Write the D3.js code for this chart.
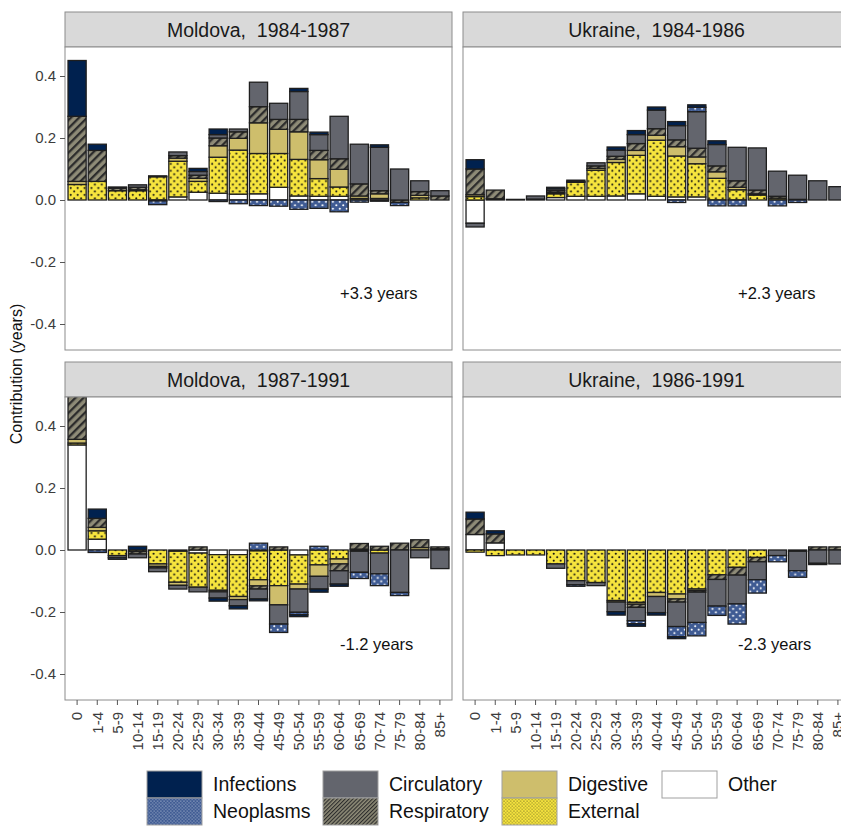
<!DOCTYPE html>
<html>
<head>
<meta charset="utf-8">
<script src="https://cdn.jsdelivr.net/npm/d3@7"></script>
<style>
  html, body { margin: 0; padding: 0; background: #fff; overflow: hidden; }
  svg { display: block; font-family: "Liberation Sans", Arial, sans-serif; }
</style>
</head>
<body>
<svg id="chart" width="841" height="826"></svg>
<script>
// age groups on the x axis
const ages = ["0", "1-4", "5-9", "10-14", "15-19", "20-24", "25-29", "30-34", "35-39",
    "40-44", "45-49", "50-54", "55-59", "60-64", "65-69", "70-74", "75-79", "80-84", "85+"];

// causes, in legend order
const causes = ["Infections", "Neoplasms", "Circulatory", "Respiratory", "Digestive", "External", "Other"];

// y axis ticks
const yTicks = [-0.4, -0.2, 0.0, 0.2, 0.4];

// contributions (years), one row per cause in the order above
const moldova8487 = [
    [0.18, 0.02, 0, 0, 0, 0, 0.01, 0.018, 0, 0, 0, 0.01, 0.008, 0, 0, 0.008, 0, 0, 0],
    [0, 0, 0, 0, -0.012, 0, 0, -0.005, -0.012, -0.018, -0.02, -0.03, -0.027, -0.038, -0.007, -0.004, -0.01, 0, 0],
    [0, 0, 0.004, 0.008, -0.003, 0.012, 0.012, 0.011, 0.009, 0.079, 0.052, 0.09, 0.051, 0.137, 0.128, 0.14, 0.1, 0.035, 0.017],
    [0.21, 0.10, 0.008, 0.008, 0, 0.008, 0.01, 0.025, 0.021, 0.052, 0.032, 0.04, 0.03, 0.034, 0.039, 0.01, -0.008, 0.012, 0.013],
    [0.01, 0, 0, 0.003, 0.003, 0.01, 0.01, 0.037, 0.038, 0.099, 0.078, 0.089, 0.061, 0.057, 0.008, 0.015, 0, 0.008, 0],
    [0.05, 0.06, 0.03, 0.03, 0.075, 0.115, 0.035, 0.116, 0.142, 0.13, 0.109, 0.118, 0.057, 0.03, 0.005, 0, 0, 0.007, 0],
    [0, 0, 0, 0, 0, 0.01, 0.025, 0.022, 0.019, 0.02, 0.041, 0.013, 0.012, 0.012, 0, 0.005, 0, 0, 0]
];

const ukraine8486 = [
    [0.03, 0, 0, 0, 0.005, 0, 0, 0.01, 0.013, 0.01, 0.013, 0.008, 0.012, 0, 0, 0, 0, 0, 0],
    [0, 0, 0, 0, 0, 0, 0, 0, 0, 0, -0.008, 0.014, -0.019, -0.019, 0, -0.019, -0.008, 0, 0],
    [-0.012, 0, 0.002, 0.01, 0.006, 0, 0.01, 0.02, 0.029, 0.06, 0.046, 0.118, 0.069, 0.108, 0.136, 0.081, 0.078, 0.062, 0.043],
    [0.083, 0.028, 0, 0, 0.006, 0.004, 0.008, 0.01, 0.022, 0.021, 0.022, 0.028, 0.019, 0.021, 0.012, 0.006, 0, 0, 0],
    [0.006, 0, 0, 0, 0.004, 0.003, 0.006, 0.01, 0.016, 0.016, 0.03, 0.022, 0.021, 0.008, 0.004, 0, 0, 0, 0],
    [0.011, 0.004, 0, 0.003, 0.012, 0.045, 0.084, 0.108, 0.124, 0.181, 0.132, 0.107, 0.07, 0.033, 0.016, 0.006, 0.002, 0, 0],
    [-0.075, 0, 0, 0, 0.008, 0.012, 0.012, 0.013, 0.02, 0.012, 0.01, 0.01, 0, 0, 0, 0, 0, 0, 0]
];

const moldova8791 = [
    [0, 0.03, 0, 0.012, 0, 0, 0, -0.01, -0.01, -0.006, 0, -0.006, -0.01, -0.007, 0, 0, 0, 0, 0],
    [0, -0.008, -0.005, 0, 0, 0, 0, 0, 0, 0.022, -0.027, -0.008, 0.012, 0, -0.02, -0.038, -0.01, 0, 0],
    [0, 0, -0.007, -0.012, -0.012, -0.012, -0.015, -0.02, -0.02, -0.032, -0.062, -0.075, -0.041, -0.043, -0.068, -0.067, -0.137, -0.025, -0.06],
    [0.14, 0.029, 0, -0.008, -0.005, 0, 0.01, 0, 0, -0.01, 0.01, 0, 0, -0.022, 0.018, 0.012, 0.022, 0.025, 0.006],
    [0.012, 0.011, 0, 0, -0.008, -0.01, 0, -0.005, -0.01, -0.02, -0.062, -0.016, -0.037, -0.016, 0, 0, 0, 0.008, 0.004],
    [0.006, 0.027, -0.018, -0.005, -0.045, -0.1, -0.11, -0.115, -0.135, -0.093, -0.115, -0.094, -0.048, -0.029, 0.003, -0.01, 0, 0, 0],
    [0.339, 0.035, 0, 0, 0, -0.004, -0.01, -0.015, -0.015, -0.003, 0, -0.016, 0, 0, -0.004, 0, 0, 0, 0]
];

const ukraine8691 = [
    [0.022, 0.01, 0, 0, 0, 0, 0, -0.011, -0.008, -0.008, -0.006, 0, 0, 0, 0, 0, 0, 0, 0],
    [0, 0, 0, 0, 0, -0.005, 0, 0, -0.01, 0, -0.033, -0.043, -0.03, -0.065, -0.043, -0.02, -0.021, -0.004, 0],
    [0, 0, 0, 0, -0.014, -0.013, -0.01, -0.031, -0.043, -0.052, -0.079, -0.098, -0.086, -0.093, -0.058, -0.018, -0.063, -0.043, -0.045],
    [0.05, 0.029, 0, 0, 0, 0, 0, 0, -0.01, 0, -0.01, -0.005, -0.015, -0.025, -0.014, 0, 0, 0.01, 0.01],
    [0, 0, 0, 0, 0, 0, 0, -0.005, -0.006, -0.013, -0.016, -0.005, 0, 0, 0, 0, 0, 0, 0],
    [-0.007, -0.018, -0.016, -0.016, -0.045, -0.099, -0.105, -0.163, -0.169, -0.137, -0.142, -0.126, -0.08, -0.056, -0.024, 0, 0, 0, 0],
    [0.05, 0.023, 0, 0, 0, 0, 0, 0, 0, 0, 0, 0, 0, 0, 0, 0, -0.004, 0, 0]
];

// facets: title, data, total change
const panelTitles = ["Moldova,  1984-1987", "Ukraine,  1984-1986", "Moldova,  1987-1991", "Ukraine,  1986-1991"];
const panelData = [moldova8487, ukraine8486, moldova8791, ukraine8691];
const panelTotals = ["+3.3 years", "+2.3 years", "-1.2 years", "-2.3 years"];

// layout
const colX = [65, 463];
const colW = 387;
const rowStripY = [12, 362];
const stripH = 35;
const plotH = 303;
const yDomain = [-150 / 310, 153 / 310];

const svg = d3.select("#chart");
const defs = svg.append("defs");

// fill patterns, one set for the bars and a denser one for the legend keys
function makePatterns(suffix, s) {
    let p = defs.append("pattern").attr("id", "neo" + suffix)
        .attr("patternUnits", "userSpaceOnUse").attr("width", 6 * s).attr("height", 6 * s);
    p.append("rect").attr("width", 6 * s).attr("height", 6 * s).attr("fill", "#3f5b93");
    p.append("circle").attr("cx", 1.5 * s).attr("cy", 1.5 * s).attr("r", 0.9 * s).attr("fill", "#fff");
    p.append("circle").attr("cx", 4.5 * s).attr("cy", 4.5 * s).attr("r", 0.9 * s).attr("fill", "#fff");

    p = defs.append("pattern").attr("id", "ext" + suffix)
        .attr("patternUnits", "userSpaceOnUse").attr("width", 6 * s).attr("height", 6 * s);
    p.append("rect").attr("width", 6 * s).attr("height", 6 * s).attr("fill", "#f7e53e");
    p.append("circle").attr("cx", 1.5 * s).attr("cy", 1.5 * s).attr("r", 0.9 * s).attr("fill", "#111");
    p.append("circle").attr("cx", 4.5 * s).attr("cy", 4.5 * s).attr("r", 0.9 * s).attr("fill", "#111");

    p = defs.append("pattern").attr("id", "resp" + suffix)
        .attr("patternUnits", "userSpaceOnUse").attr("width", 5 * s).attr("height", 5 * s)
        .attr("patternTransform", "rotate(45)");
    p.append("rect").attr("width", 5 * s).attr("height", 5 * s).attr("fill", "#8e8b77");
    p.append("rect").attr("width", 2 * s).attr("height", 5 * s).attr("fill", "#2c2c2c");
}
makePatterns("", 1.15);
makePatterns("Key", 0.55);

const causeFill = {
    Infections: "#00214f",
    Neoplasms: "url(#neo)",
    Circulatory: "#63656d",
    Respiratory: "url(#resp)",
    Digestive: "#cebe6c",
    External: "url(#ext)",
    Other: "#ffffff"
};
const keyFill = Object.assign({}, causeFill, {
    Neoplasms: "url(#neoKey)", Respiratory: "url(#respKey)", External: "url(#extKey)"
});

// the last cause sits next to zero
const stackOrder = causes.slice().reverse();

panelData.forEach((rows, p) => {
    const col = p % 2, row = Math.floor(p / 2);
    const left = colX[col];
    const top = rowStripY[row] + stripH;

    const x = d3.scaleBand().domain(ages).range([left, left + colW])
        .paddingInner(0.1).paddingOuter(0.15);
    const y = d3.scaleLinear().domain(yDomain).range([top + plotH, top]);

    // strip
    svg.append("rect").attr("x", left).attr("y", rowStripY[row])
        .attr("width", colW).attr("height", stripH)
        .attr("fill", "#d9d9d9").attr("stroke", "#8c8c8c").attr("stroke-width", 1);
    svg.append("text").attr("x", left + colW / 2).attr("y", rowStripY[row] + stripH / 2 + 7)
        .attr("text-anchor", "middle").attr("font-size", 19.5).attr("fill", "#1a1a1a")
        .style("white-space", "pre").text(panelTitles[p]);

    // panel background
    svg.append("rect").attr("x", left).attr("y", top).attr("width", colW).attr("height", plotH)
        .attr("fill", "#fff");

    defs.append("clipPath").attr("id", "clip" + p)
        .append("rect").attr("x", left).attr("y", top).attr("width", colW).attr("height", plotH);

    const table = ages.map((a, i) => {
        const o = { age: a };
        causes.forEach((c, k) => { o[c] = rows[k][i]; });
        return o;
    });
    const series = d3.stack().keys(stackOrder).offset(d3.stackOffsetDiverging)(table);

    const g = svg.append("g").attr("clip-path", "url(#clip" + p + ")");
    series.forEach(s => {
        g.append("g").selectAll("rect")
            .data(s.filter(d => d[0] !== d[1]))
            .join("rect")
            .attr("x", d => x(d.data.age))
            .attr("width", x.bandwidth())
            .attr("y", d => y(Math.max(d[0], d[1])))
            .attr("height", d => Math.abs(y(d[0]) - y(d[1])))
            .attr("fill", causeFill[s.key])
            .attr("stroke", "#1e1e1e")
            .attr("stroke-width", 1.3);
    });

    // total change label
    svg.append("text").attr("x", left + 275).attr("y", top + (row === 0 ? 252 : 253))
        .attr("font-size", 16.5).attr("fill", "#111").text(panelTotals[p]);

    // border
    svg.append("rect").attr("x", left).attr("y", top).attr("width", colW).attr("height", plotH)
        .attr("fill", "none").attr("stroke", "#8c8c8c").attr("stroke-width", 1);

    // y axis on the left column
    if (col === 0) {
        const ya = svg.append("g").attr("transform", `translate(${left},0)`)
            .call(d3.axisLeft(y).tickValues(yTicks).tickFormat(d => d.toFixed(1)).tickSize(5).tickPadding(4));
        ya.select(".domain").remove();
        ya.selectAll("line").attr("stroke", "#555");
        ya.selectAll("text").attr("font-size", 15).attr("fill", "#3c3c3c")
            .attr("font-family", "Liberation Sans, Arial, sans-serif");
    }

    // x axis on the bottom row
    if (row === 1) {
        const xa = svg.append("g").attr("transform", `translate(0,${top + plotH})`)
            .call(d3.axisBottom(x).tickSize(5).tickPadding(3));
        xa.select(".domain").remove();
        xa.selectAll("line").attr("stroke", "#555");
        xa.selectAll("text").attr("font-size", 15).attr("fill", "#3c3c3c")
            .attr("font-family", "Liberation Sans, Arial, sans-serif")
            .attr("text-anchor", "end").attr("dy", "0.35em")
            .attr("transform", "translate(0,12) rotate(-90)")
            .attr("x", 0).attr("y", 0);
    }
});

// y axis title
svg.append("text").attr("transform", "translate(22,374) rotate(-90)")
    .attr("text-anchor", "middle").attr("font-size", 16).attr("fill", "#111")
    .text("Contribution (years)");

// legend, filled column by column
const keyX = [147, 323, 502, 662];
const keyY = [771, 798];
const legend = svg.append("g");
causes.forEach((c, i) => {
    const cx = keyX[Math.floor(i / 2)], cy = keyY[i % 2];
    legend.append("rect").attr("x", cx).attr("y", cy).attr("width", 55).attr("height", 27)
        .attr("fill", keyFill[c]).attr("stroke", "#a0a0a0").attr("stroke-width", 1);
    legend.append("text").attr("x", cx + 66).attr("y", cy + 20)
        .attr("font-size", 19.5).attr("fill", "#111").text(c);
});
</script>
</body>
</html>
